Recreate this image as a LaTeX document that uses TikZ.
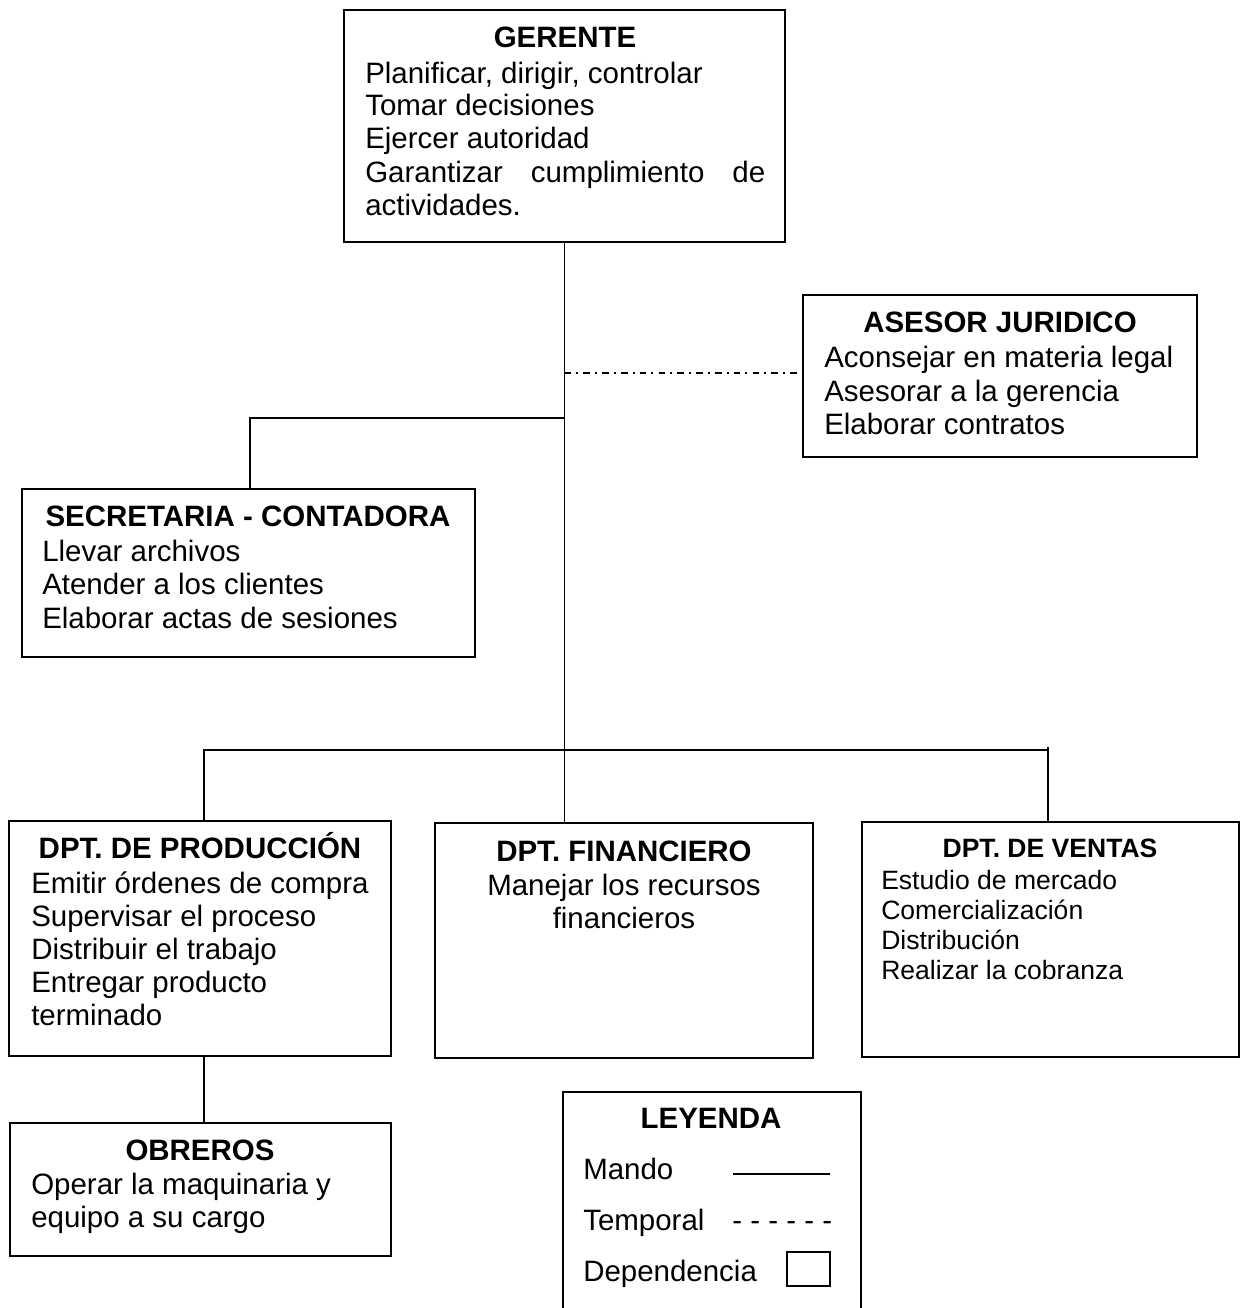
\documentclass[tikz,border=0pt]{standalone}
\usepackage{fontspec}
\setmainfont{Liberation Sans}
\usetikzlibrary{fit}

% body and title fonts
\newcommand\bodyfnt{\fontsize{22.1}{24.75}\selectfont}
\newcommand\titlefnt{\fontsize{22.1}{24.75}\selectfont\bfseries}
\newcommand\smallfnt{\fontsize{19.9}{22.5}\selectfont}
\newcommand\smalltitlefnt{\fontsize{19.9}{22.5}\selectfont\bfseries}

\tikzset{
  box/.style={draw, line width=1.3pt, rectangle, inner sep=0pt},
  ttl/.style={font=\titlefnt, anchor=base, inner sep=0pt},
  txt/.style={font=\bodyfnt, anchor=base west, inner sep=0pt},
  ctxt/.style={font=\bodyfnt, anchor=base, inner sep=0pt},
  sttl/.style={font=\smalltitlefnt, anchor=base, inner sep=0pt},
  stxt/.style={font=\smallfnt, anchor=base west, inner sep=0pt},
  link/.style={line width=1.3pt},
  temp/.style={line width=1.1pt, dash pattern=on 5pt off 3.8pt on 1.5pt off 3.8pt},
}

\begin{document}
\begin{tikzpicture}[x=0.75pt, y=-0.75pt]
\useasboundingbox (0,0) rectangle (1244,1308);

% ---- boxes ----
\node[box, fit={(344,10) (785,242)}] (ger) {};
\node[box, fit={(803,295) (1197,457)}] (ase) {};
\node[box, fit={(22,489) (475,657)}] (sec) {};
\node[box, fit={(9,821) (391,1056)}] (pro) {};
\node[box, fit={(435,823) (813,1058)}] (fin) {};
\node[box, fit={(862,822) (1239,1057)}] (ven) {};
\node[box, fit={(10,1123) (391,1256)}] (obr) {};
\node[box, fit={(563,1092) (861,1320)}] (ley) {};

% ---- GERENTE ----
\node[ttl] (gerT) at (565,48) {GERENTE};
\node[txt] (ger1) at (365,84) {Planificar, dirigir, controlar};
\node[txt] (ger2) at (365,116) {Tomar decisiones};
\node[txt] (ger3) at (365,149) {Ejercer autoridad};
\node[txt] (ger4) at (365,183) {\hbox to 300pt{Garantizar\hfill cumplimiento\hfill de}};
\node[txt] (ger5) at (365,216) {actividades.};

% ---- ASESOR JURIDICO ----
\node[ttl] (aseT) at (1000,333) {ASESOR JURIDICO};
\node[txt] (ase1) at (824,368) {Aconsejar en materia legal};
\node[txt] (ase2) at (824,401) {Asesorar a la gerencia};
\node[txt] (ase3) at (824,434) {Elaborar contratos};

% ---- SECRETARIA - CONTADORA ----
\node[ttl] (secT) at (248,526) {SECRETARIA - CONTADORA};
\node[txt] (sec1) at (42,561) {Llevar archivos};
\node[txt] (sec2) at (42,594) {Atender a los clientes};
\node[txt] (sec3) at (42,628) {Elaborar actas de sesiones};

% ---- DPT. DE PRODUCCION ----
\node[ttl] (proT) at (200,858) {DPT. DE PRODUCCIÓN};
\node[txt] (pro1) at (31,893) {Emitir órdenes de compra};
\node[txt] (pro2) at (31,926) {Supervisar el proceso};
\node[txt] (pro3) at (31,959) {Distribuir el trabajo};
\node[txt] (pro4) at (31,992) {Entregar producto};
\node[txt] (pro5) at (31,1025) {terminado};

% ---- DPT. FINANCIERO ----
\node[ttl] (finT) at (624,861) {DPT. FINANCIERO};
\node[ctxt] (fin1) at (624,895) {Manejar los recursos};
\node[ctxt] (fin2) at (624,928) {financieros};

% ---- DPT. DE VENTAS ----
\node[sttl] (venT) at (1050,857) {DPT. DE VENTAS};
\node[stxt] (ven1) at (881,889) {Estudio de mercado};
\node[stxt] (ven2) at (881,919) {Comercialización};
\node[stxt] (ven3) at (881,949) {Distribución};
\node[stxt] (ven4) at (881,979) {Realizar la cobranza};

% ---- OBREROS ----
\node[ttl] (obrT) at (200,1160) {OBREROS};
\node[txt] (obr1) at (31,1194) {Operar la maquinaria y};
\node[txt] (obr2) at (31,1227) {equipo a su cargo};

% ---- LEYENDA ----
\node[ttl] (leyT) at (711,1128) {LEYENDA};
\node[txt] (ley1) at (583,1179) {Mando};
\node[txt] (ley2) at (583,1230) {Temporal};
\node[txt] (ley3) at (583,1281) {Dependencia};
\coordinate (mandoA) at (733,1174);
\coordinate (mandoB) at (830,1174);
\draw[line width=1.1pt] (mandoA) -- (mandoB);
\node[txt] (tempS) at (732,1230) {- - - - - -};
\node[draw, line width=1.1pt, fit={(787,1252) (830,1286)}, inner sep=0pt] (depS) {};

% ---- connectors ----
\coordinate (jSec) at (ger.south |- 0,418);
\coordinate (jAse) at (ger.south |- 0,373);
\coordinate (bus) at (ger.south |- 0,750);
\coordinate (busR) at (1048,747);

\draw[link] (ger.south) -- (bus);
\draw[temp] (jAse) -- (ase.west |- jAse);
\draw[link] (jSec) -| (sec.north -| 250,0);
\draw[link] (bus) -| (204,821);
\draw[link] (bus -| 1048,0) -- (busR) -- (ven.north -| 1048,0);
\draw[link] (bus) -- (bus -| 1048,0);
\draw[link] (bus) -- (fin.north -| bus);
\draw[link] (pro.south -| 204,0) -- (obr.north -| 204,0);
\end{tikzpicture}
\end{document}
